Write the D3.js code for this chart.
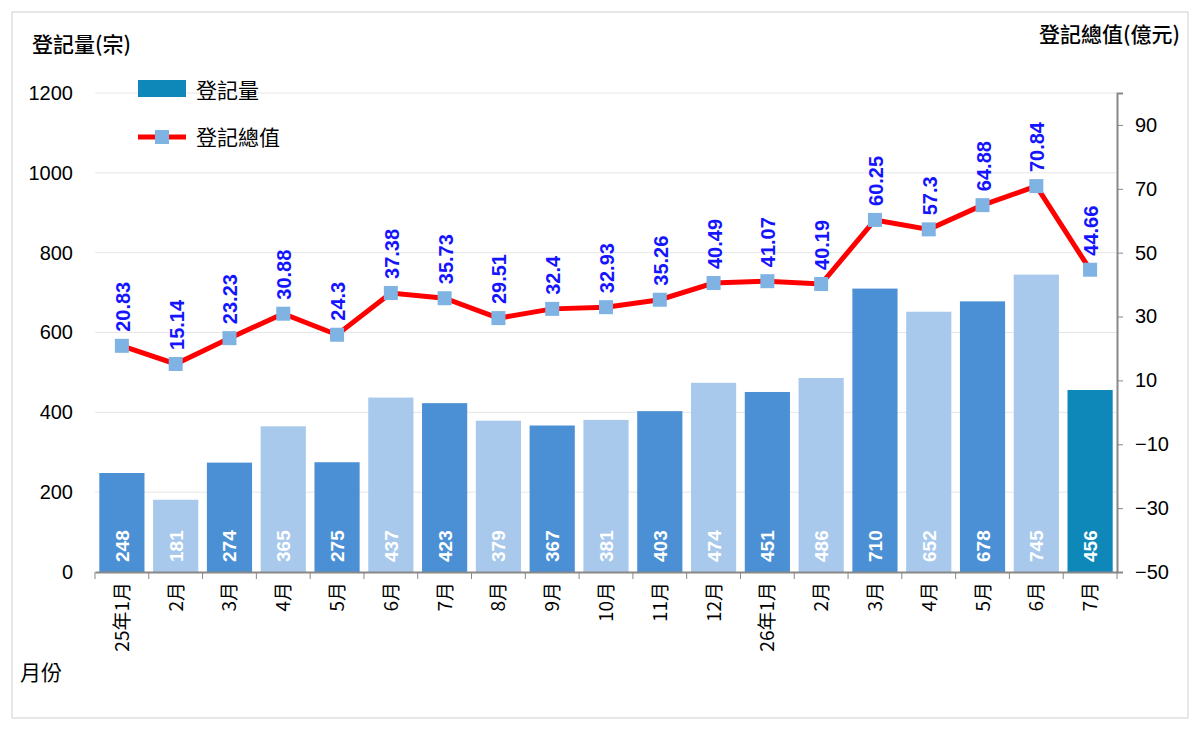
<!DOCTYPE html>
<html><head><meta charset="utf-8">
<script src="https://cdn.jsdelivr.net/npm/d3@7"></script>
<style>
body{margin:0;background:#fff;font-family:"Noto Sans CJK TC","Liberation Sans",sans-serif;}
</style></head><body>
<div id="chart"></div>
<script>
// data
var data = [
  {m:"25年1月", n:248, v:20.83},
  {m:"2月", n:181, v:15.14},
  {m:"3月", n:274, v:23.23},
  {m:"4月", n:365, v:30.88},
  {m:"5月", n:275, v:24.3},
  {m:"6月", n:437, v:37.38},
  {m:"7月", n:423, v:35.73},
  {m:"8月", n:379, v:29.51},
  {m:"9月", n:367, v:32.4},
  {m:"10月", n:381, v:32.93},
  {m:"11月", n:403, v:35.26},
  {m:"12月", n:474, v:40.49},
  {m:"26年1月", n:451, v:41.07},
  {m:"2月 ", n:486, v:40.19},
  {m:"3月 ", n:710, v:60.25},
  {m:"4月 ", n:652, v:57.3},
  {m:"5月 ", n:678, v:64.88},
  {m:"6月 ", n:745, v:70.84},
  {m:"7月 ", n:456, v:44.66}
];

var svg = d3.select("#chart").append("svg").attr("width",1200).attr("height",730);
svg.append("rect").attr("x",12).attr("y",12).attr("width",1176).attr("height",706)
  .attr("fill","none").attr("stroke","#d0d0d0");

var plotL = 95, plotR = 1117, plotT = 93, plotB = 572;

var x = d3.scaleBand().domain(data.map(d => d.m)).range([plotL, plotR]).paddingInner(0.16).paddingOuter(0.08);
var y = d3.scaleLinear().domain([0,1200]).range([plotB, plotT]);
var y2 = d3.scaleLinear().domain([-50,100]).range([plotB, plotT]);

// gridlines
svg.append("g").selectAll("line").data(d3.range(200,1201,200)).enter().append("line")
  .attr("x1",plotL).attr("x2",plotR).attr("y1",d=>y(d)).attr("y2",d=>y(d))
  .attr("stroke","#e6e6e6");

// bars
function barColor(d,i){
  if (i === data.length-1) return "#0e87b9";
  return i % 2 === 0 ? "#4b90d5" : "#a8c9ec";
}
svg.append("g").selectAll("rect").data(data).enter().append("rect")
  .attr("x",d=>x(d.m)).attr("width",x.bandwidth())
  .attr("y",d=>y(d.n)).attr("height",d=>plotB-y(d.n))
  .attr("fill",barColor);

svg.append("g").selectAll("text").data(data).enter().append("text")
  .attr("transform",d=>`translate(${x(d.m)+x.bandwidth()/2+7},${plotB-10}) rotate(-90)`)
  .attr("fill","#fff").attr("font-weight","bold").attr("font-size",19)
  .attr("font-family","Liberation Sans")
  .text(d=>d.n);

// axes
var xAxis = svg.append("g").attr("transform",`translate(0,${plotB})`)
  .call(d3.axisBottom(x).tickSize(0).tickFormat(""));
xAxis.select(".domain").attr("stroke","#888").attr("stroke-width",2);
// x ticks between categories
svg.append("g").selectAll("line").data(d3.range(data.length+1)).enter().append("line")
  .attr("x1",i=>plotL+i*(plotR-plotL)/data.length).attr("x2",i=>plotL+i*(plotR-plotL)/data.length)
  .attr("y1",plotB).attr("y2",plotB+7).attr("stroke","#888");
svg.append("g").selectAll("text").data(data).enter().append("text")
  .attr("transform",d=>`translate(${x(d.m)+x.bandwidth()/2+7},${plotB+10}) rotate(-90)`)
  .attr("text-anchor","end").attr("font-size",19).attr("fill","#000")
  .text(d=>d.m.trim());

var yAxis = svg.append("g").attr("transform",`translate(${plotL},0)`)
  .call(d3.axisLeft(y).tickValues(d3.range(0,1201,200)).tickSize(0).tickPadding(22).tickFormat(d3.format("d")));
yAxis.select(".domain").remove();
yAxis.selectAll("text").attr("font-size",20).attr("font-family","Liberation Sans").attr("fill","#000");

var yAxis2 = svg.append("g").attr("transform",`translate(${plotR},0)`)
  .call(d3.axisRight(y2).tickValues(d3.range(-50,91,20)).tickSize(6).tickPadding(12));
yAxis2.select(".domain").attr("stroke","#888").attr("stroke-width",2);
yAxis2.selectAll("line").attr("stroke","#888");
yAxis2.selectAll("text").attr("font-size",20).attr("font-family","Liberation Sans").attr("fill","#000");

// line
var line = d3.line().x(d=>x(d.m)+x.bandwidth()/2).y(d=>y2(d.v));
svg.append("path").datum(data).attr("d",line).attr("fill","none")
  .attr("stroke","#ff0000").attr("stroke-width",5);
svg.append("g").selectAll("rect").data(data).enter().append("rect")
  .attr("x",d=>x(d.m)+x.bandwidth()/2-7).attr("y",d=>y2(d.v)-7)
  .attr("width",14).attr("height",14).attr("fill","#7fb3e3");
svg.append("g").selectAll("text").data(data).enter().append("text")
  .attr("transform",d=>`translate(${x(d.m)+x.bandwidth()/2+8},${y2(d.v)-14}) rotate(-90)`)
  .attr("fill","#1414ff").attr("font-weight","bold").attr("font-size",20)
  .attr("font-family","Liberation Sans")
  .text(d=>d.v);

// titles
svg.append("text").attr("x",32).attr("y",52).attr("font-size",21).attr("font-weight",500).text("登記量(宗)");
svg.append("text").attr("x",1180).attr("y",42).attr("text-anchor","end").attr("font-size",21).attr("font-weight",500).text("登記總值(億元)");
svg.append("text").attr("x",20).attr("y",680).attr("font-size",21).text("月份");

// legend
svg.append("rect").attr("x",138).attr("y",80).attr("width",48).attr("height",17).attr("fill","#0e87b9");
svg.append("text").attr("x",196).attr("y",98).attr("font-size",21).text("登記量");
svg.append("line").attr("x1",138).attr("x2",186).attr("y1",137).attr("y2",137).attr("stroke","#ff0000").attr("stroke-width",5);
svg.append("rect").attr("x",155).attr("y",130).attr("width",14).attr("height",14).attr("fill","#7fb3e3");
svg.append("text").attr("x",196).attr("y",145).attr("font-size",21).text("登記總值");
</script>
</body></html>
